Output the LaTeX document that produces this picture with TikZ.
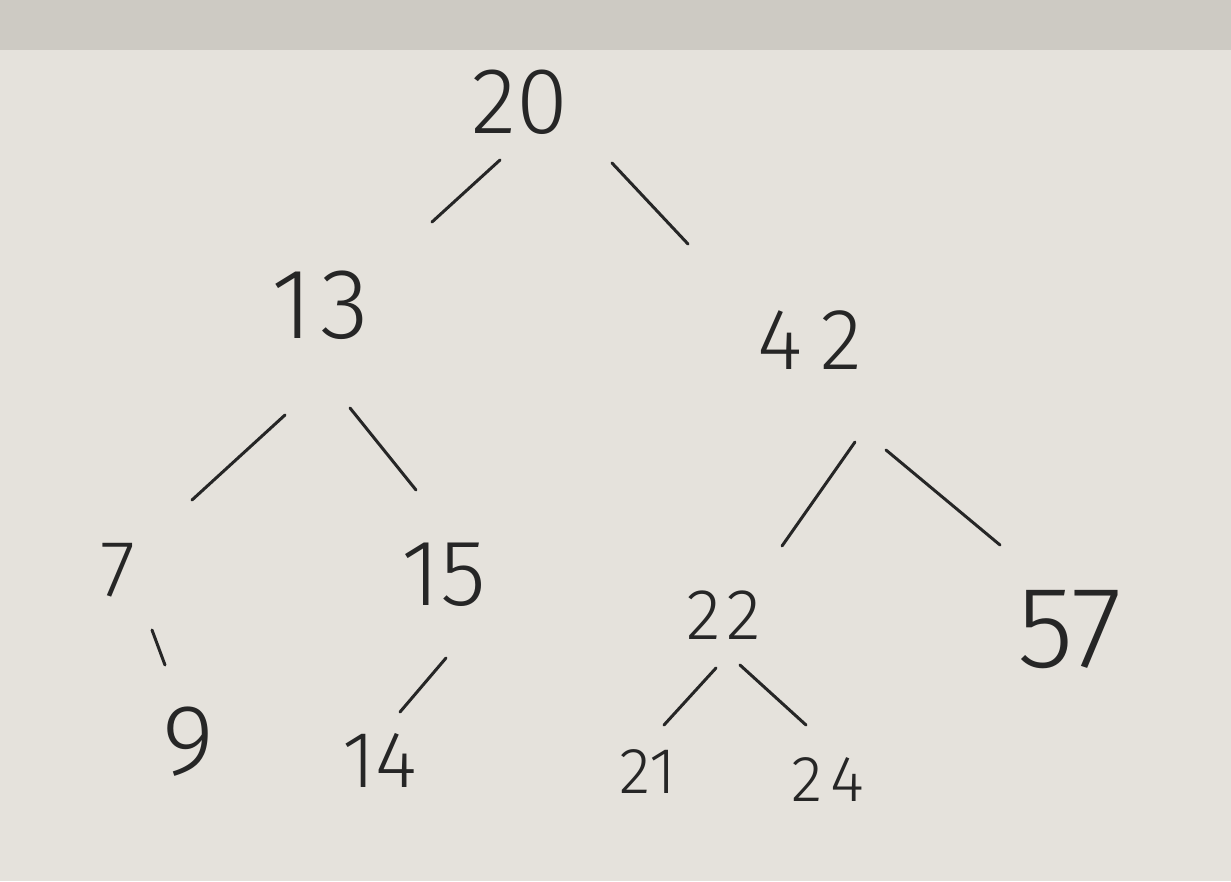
\documentclass[tikz,border=0pt]{standalone}
\usepackage{fontspec}
\newfontfamily\hand{Fira Sans Light}
\usetikzlibrary{calc}
\definecolor{paper}{HTML}{E5E2DC}
\definecolor{band}{HTML}{CDCAC3}
\definecolor{ink}{HTML}{262626}
\tikzset{
  digit/.style={font=\hand\fontsize{#1}{#1}\selectfont, inner sep=0pt, text=ink},
  edge/.style={draw=ink, line width=3pt, line cap=round}
}
\begin{document}
\begin{tikzpicture}[x=1pt,y=-1pt]
\fill[paper] (0,0) rectangle (1231,881);
\fill[band] (0,0) rectangle (1231,50);
\useasboundingbox (0,0) rectangle (1231,881);
\node[digit=94]  (n20) at (520,102) {20};
\node[digit=100] (n13) at (320,305) {1\hspace{8pt}3};
\node[digit=87]  (n42) at (810,340) {4\hspace{18pt}2};
\node[digit=80]  (n7)  at (118,570) {7};
\node[digit=94]  (n15) at (444,575) {15};
\node[digit=72]  (n22) at (724,615) {2\hspace{6pt}2};
\node[digit=116] (n57) at (1070,630) {57};
\node[digit=100] (n9)  at (188,742) {9};
\node[digit=80]  (n14) at (380,760) {14};
\node[digit=65]  (n21) at (648,772) {21};
\node[digit=65]  (n24) at (828,780) {2\hspace{8pt}4};
\draw[edge] ($(n20)+(-20,58)$) -- ($(n13)+(112,-83)$);
\draw[edge] ($(n20)+(92,61)$) -- ($(n42)+(-122,-96)$);
\draw[edge] ($(n13)+(-35,110)$) -- ($(n7)+(74,-70)$);
\draw[edge] ($(n13)+(30,103)$) -- ($(n15)+(-28,-85)$);
\draw[edge] ($(n42)+(45,102)$) -- ($(n22)+(58,-69)$);
\draw[edge] ($(n42)+(76,110)$) -- ($(n57)+(-70,-85)$);
\draw[edge] ($(n7)+(34,60)$) -- ($(n9)+(-23,-77)$);
\draw[edge] ($(n15)+(2,83)$) -- ($(n14)+(20,-48)$);
\draw[edge] ($(n22)+(-8,53)$) -- ($(n21)+(16,-47)$);
\draw[edge] ($(n22)+(16,50)$) -- ($(n24)+(-22,-55)$);
\end{tikzpicture}
\end{document}
